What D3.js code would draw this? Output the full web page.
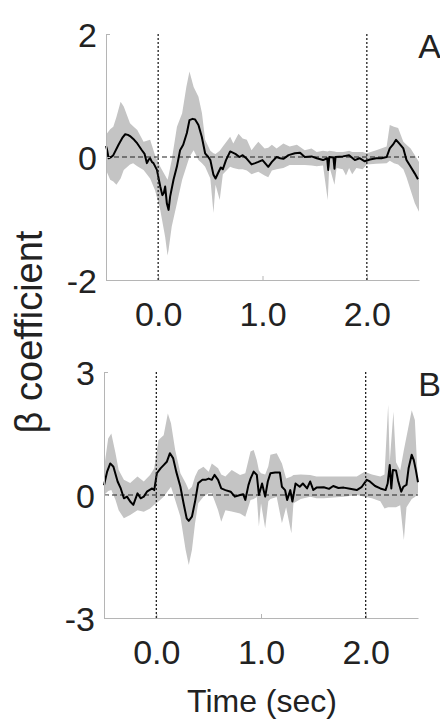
<!DOCTYPE html>
<html>
<head>
<meta charset="utf-8">
<script src="https://cdn.jsdelivr.net/npm/d3@7"></script>
<style>
  html, body { margin: 0; padding: 0; background: #fff; }
  svg { display: block; }
  text { font-family: "Liberation Sans", Arial, Helvetica, sans-serif; fill: #222; }
</style>
</head>
<body>
<svg id="chart" width="440" height="723"></svg>
<script>
// ---------------- DATA ----------------
const xTicks = [0, 1, 2];
const xTickLabels = ["0.0", "1.0", "2.0"];
const markerTimes = [0, 2];

const yTicksA = [-2, 0, 2];
const yTickLabelsA = ["-2", "0", "2"];
const yTicksB = [-3, 0, 3];
const yTickLabelsB = ["-3", "0", "3"];

// Panel A mean (time in s, beta)
const meanTimeA = [-0.5,-0.49,-0.475,-0.45,-0.43,-0.38,-0.34,-0.316,-0.29,-0.27,-0.23,-0.2,-0.156,-0.13,-0.108,-0.09,-0.077,-0.06,-0.045,-0.012,0.02,0.04,0.055,0.067,0.083,0.1,0.115,0.147,0.179,0.21,0.24,0.275,0.3,0.33,0.354,0.386,0.418,0.45,0.48,0.5,0.53,0.55,0.58,0.6,0.62,0.65,0.69,0.74,0.78,0.81,0.85,0.895,0.93,0.96,1.0,1.055,1.09,1.135,1.17,1.2,1.25,1.31,1.36,1.405,1.47,1.52,1.58,1.62,1.63,1.64,1.68,1.69,1.7,1.77,1.83,1.885,1.93,1.98,2.03,2.09,2.14,2.19,2.22,2.25,2.28,2.31,2.35,2.38,2.42,2.46,2.49];
const meanValA = [0.18,0.12,-0.02,0.0,0.03,0.2,0.32,0.37,0.36,0.34,0.28,0.22,0.11,0.05,-0.1,-0.04,-0.02,-0.08,-0.1,-0.21,-0.48,-0.62,-0.58,-0.48,-0.75,-0.86,-0.64,-0.37,-0.16,0.11,0.2,0.39,0.6,0.62,0.61,0.52,0.33,0.06,0.0,-0.05,-0.29,-0.35,-0.24,-0.17,-0.2,-0.05,0.09,0.05,0.0,0.03,-0.03,-0.12,-0.1,-0.08,-0.05,-0.16,-0.08,0.0,-0.02,-0.03,0.03,0.06,0.07,0.0,0.01,-0.02,-0.05,-0.02,-0.21,0.0,-0.01,-0.19,0.0,0.01,0.03,-0.05,-0.02,-0.07,-0.04,-0.02,-0.02,0.0,0.14,0.2,0.28,0.22,0.14,-0.05,-0.16,-0.27,-0.36];

// Panel A confidence band
const bandTimeA = [-0.5,-0.46,-0.43,-0.4,-0.36,-0.33,-0.27,-0.24,-0.2,-0.14,-0.077,-0.03,0.02,0.067,0.09,0.1,0.13,0.18,0.23,0.27,0.3,0.34,0.386,0.42,0.45,0.5,0.53,0.55,0.59,0.62,0.69,0.72,0.77,0.81,0.85,0.895,0.96,1.02,1.055,1.09,1.135,1.2,1.26,1.33,1.405,1.47,1.52,1.58,1.625,1.64,1.69,1.71,1.77,1.8,1.83,1.86,1.9,1.96,2.0,2.09,2.19,2.22,2.26,2.3,2.35,2.38,2.42,2.46,2.5];
const lowerA = [-0.21,-0.37,-0.4,-0.45,-0.35,-0.21,-0.12,-0.1,-0.15,-0.21,-0.35,-0.54,-0.86,-1.3,-1.6,-1.51,-1.13,-0.75,-0.37,-0.16,0.0,0.11,-0.05,-0.1,-0.16,-0.35,-0.91,-0.45,-0.7,-0.28,-0.16,-0.18,-0.2,-0.2,-0.22,-0.28,-0.24,-0.3,-0.33,-0.22,-0.2,-0.18,-0.13,-0.13,-0.13,-0.14,-0.15,-0.14,-0.7,-0.15,-0.45,-0.18,-0.2,-0.3,-0.18,-0.28,-0.18,-0.2,-0.12,-0.11,-0.1,-0.06,-0.1,-0.12,-0.2,-0.33,-0.54,-0.75,-0.89];
const upperA = [0.36,0.45,0.49,0.65,0.9,0.82,0.55,0.5,0.44,0.25,0.28,0.03,-0.16,-0.3,-0.37,-0.3,-0.05,0.49,0.71,1.14,1.39,1.14,0.98,0.71,0.28,0.1,0.06,0.05,0.1,0.17,0.33,0.22,0.38,0.3,0.28,0.11,0.25,0.14,0.15,0.2,0.14,0.22,0.17,0.2,0.11,0.14,0.08,0.1,0.09,0.1,0.09,0.08,0.08,0.09,0.1,0.08,0.08,0.08,0.06,0.11,0.17,0.52,0.49,0.47,0.25,0.2,0.14,0.03,-0.08];

// Panel B mean
const meanTimeB = [-0.5,-0.47,-0.44,-0.41,-0.37,-0.34,-0.31,-0.28,-0.25,-0.22,-0.18,-0.15,-0.12,-0.09,-0.04,-0.02,0.005,0.04,0.07,0.1,0.13,0.16,0.19,0.23,0.26,0.29,0.31,0.34,0.37,0.4,0.44,0.47,0.5,0.53,0.556,0.59,0.62,0.66,0.71,0.75,0.8,0.83,0.85,0.88,0.9,0.93,0.96,0.98,1.01,1.04,1.065,1.09,1.135,1.18,1.2,1.23,1.25,1.28,1.3,1.33,1.37,1.4,1.44,1.47,1.5,1.53,1.6,1.65,1.69,1.74,1.79,1.85,1.915,1.96,2.01,2.04,2.09,2.14,2.19,2.21,2.23,2.245,2.26,2.29,2.31,2.34,2.36,2.39,2.41,2.44,2.46,2.48,2.5];
const meanValB = [0.24,0.57,0.77,0.69,0.33,0.16,-0.08,-0.04,-0.16,-0.24,0.04,-0.08,-0.04,0.08,0.16,0.12,0.53,0.65,0.73,0.81,1.02,0.9,0.57,0.2,-0.2,-0.57,-0.63,-0.53,-0.16,0.29,0.37,0.37,0.4,0.37,0.49,0.37,0.16,0.12,0.08,-0.04,0.0,0.02,-0.12,0.24,0.4,0.57,0.49,0.0,0.28,-0.04,0.33,0.53,0.55,0.55,0.2,0.12,-0.12,0.12,-0.16,0.28,0.2,0.28,0.16,0.33,0.12,0.18,0.19,0.15,0.22,0.17,0.18,0.15,0.12,0.19,0.37,0.33,0.22,0.16,0.12,0.28,0.73,0.16,0.61,0.6,0.35,0.08,0.2,0.25,0.65,0.98,0.85,0.6,0.31];

// Panel B confidence band
const bandTimeB = [-0.5,-0.46,-0.43,-0.39,-0.36,-0.31,-0.25,-0.18,-0.12,-0.06,-0.02,0.02,0.07,0.11,0.14,0.18,0.23,0.28,0.31,0.34,0.37,0.4,0.45,0.5,0.53,0.59,0.62,0.66,0.72,0.8,0.85,0.9,0.93,0.96,0.98,1.0,1.04,1.07,1.09,1.15,1.2,1.24,1.29,1.31,1.38,1.47,1.53,1.6,1.79,1.915,1.99,2.06,2.14,2.18,2.215,2.23,2.265,2.29,2.33,2.365,2.39,2.44,2.47,2.49,2.5];
const lowerB = [0.0,0.1,0.12,-0.12,-0.37,-0.57,-0.49,-0.37,-0.41,-0.33,-0.24,-0.16,-0.04,0.1,0.2,-0.12,-0.53,-1.34,-1.71,-1.34,-0.69,-0.2,-0.04,0.04,0.04,-0.37,-0.65,-0.37,-0.4,-0.45,-0.53,-0.12,-0.1,-0.05,-0.77,-0.2,-0.81,-0.15,-0.1,-0.05,-0.69,-0.3,-0.93,-0.2,-0.1,-0.04,-0.08,-0.08,-0.04,0.0,-0.04,-0.08,-0.15,-0.33,-0.3,-0.3,-0.3,-0.3,-0.25,-1.1,-0.3,-0.1,-0.05,0.0,0.05];
const upperB = [0.65,1.38,1.5,1.02,0.61,0.37,0.29,0.45,0.33,0.49,0.65,1.34,1.46,1.99,1.75,1.1,0.53,0.29,0.12,0.2,0.45,0.61,0.69,0.57,0.77,0.65,0.5,0.45,0.61,0.49,0.53,1.06,1.1,0.85,0.6,0.53,0.5,0.7,0.98,1.02,0.77,0.4,0.45,0.49,0.5,0.49,0.45,0.45,0.45,0.45,0.57,0.5,0.45,0.5,2.2,0.8,2.03,0.8,0.6,1.1,1.42,2.07,1.83,0.8,0.3];

// ---------------- DRAW ----------------
const svg = d3.select("#chart");
const FONT = 34;

function panel(cfg) {
  const x = d3.scaleLinear().domain([-0.5, 2.5]).range([cfg.left, cfg.right]);
  const y = d3.scaleLinear().domain(cfg.yDomain).range([cfg.bottom, cfg.top]);
  const g = svg.append("g");

  // band
  const band = cfg.bandTime.map((t, i) => ({t, lo: cfg.lower[i], hi: cfg.upper[i]}));
  g.append("path").datum(band)
    .attr("fill", "#c4c4c4")
    .attr("stroke", "none")
    .attr("d", d3.area().x(d => x(d.t)).y0(d => y(d.lo)).y1(d => y(d.hi)));

  // zero dashed line
  g.append("line")
    .attr("x1", x(-0.5)).attr("x2", x(2.5))
    .attr("y1", y(0)).attr("y2", y(0))
    .attr("stroke", "#222").attr("stroke-width", 1.2)
    .attr("stroke-dasharray", "5,3");

  // mean line
  const mean = cfg.meanTime.map((t, i) => ({t, v: cfg.meanVal[i]}));
  g.append("path").datum(mean)
    .attr("fill", "none").attr("stroke", "#000").attr("stroke-width", 2)
    .attr("stroke-linejoin", "round")
    .attr("d", d3.line().x(d => x(d.t)).y(d => y(d.v)));

  // axes
  const ax = g.append("g").attr("transform", `translate(0,${cfg.bottom})`)
    .call(d3.axisBottom(x).tickValues(xTicks).tickFormat((d, i) => xTickLabels[i])
      .tickSizeInner(-4).tickSizeOuter(0).tickPadding(22));
  const ay = g.append("g").attr("transform", `translate(${cfg.left},0)`)
    .call(d3.axisLeft(y).tickValues(cfg.yTicks).tickFormat((d, i) => cfg.yTickLabels[i])
      .tickSizeInner(-4).tickSizeOuter(0).tickPadding(9));
  [ax, ay].forEach(a => {
    a.select(".domain").attr("stroke", "#b5b5b5");
    a.selectAll(".tick line").attr("stroke", "#b5b5b5");
    a.selectAll("text").attr("font-size", FONT).attr("fill", "#222")
      .attr("font-family", "Liberation Sans, Arial, sans-serif");
  });
  ay.selectAll("text").attr("dy", "0.36em");

  // dotted markers
  g.selectAll("line.marker").data(markerTimes).enter().append("line")
    .attr("class", "marker")
    .attr("x1", d => x(d)).attr("x2", d => x(d))
    .attr("y1", cfg.top).attr("y2", cfg.bottom)
    .attr("stroke", "#222").attr("stroke-width", 1.3)
    .attr("stroke-dasharray", "2,2");

  // panel letter
  g.append("text").attr("x", 441).attr("y", cfg.top + 24)
    .attr("text-anchor", "end").attr("font-size", 34).text(cfg.letter);
}

panel({left: 106, right: 419, top: 34, bottom: 280, yDomain: [-2, 2], yTicks: yTicksA, yTickLabels: yTickLabelsA,
  meanTime: meanTimeA, meanVal: meanValA, bandTime: bandTimeA, lower: lowerA, upper: upperA, letter: "A"});
panel({left: 104, right: 418, top: 372, bottom: 618, yDomain: [-3, 3], yTicks: yTicksB, yTickLabels: yTickLabelsB,
  meanTime: meanTimeB, meanVal: meanValB, bandTime: bandTimeB, lower: lowerB, upper: upperB, letter: "B"});

// axis titles
svg.append("text").attr("x", 262).attr("y", 712).attr("text-anchor", "middle")
  .attr("font-size", 32).text("Time (sec)");
svg.append("text").attr("transform", "translate(42,332) rotate(-90)")
  .attr("text-anchor", "middle").attr("font-size", 38).text("β coefficient");
</script>
</body>
</html>
